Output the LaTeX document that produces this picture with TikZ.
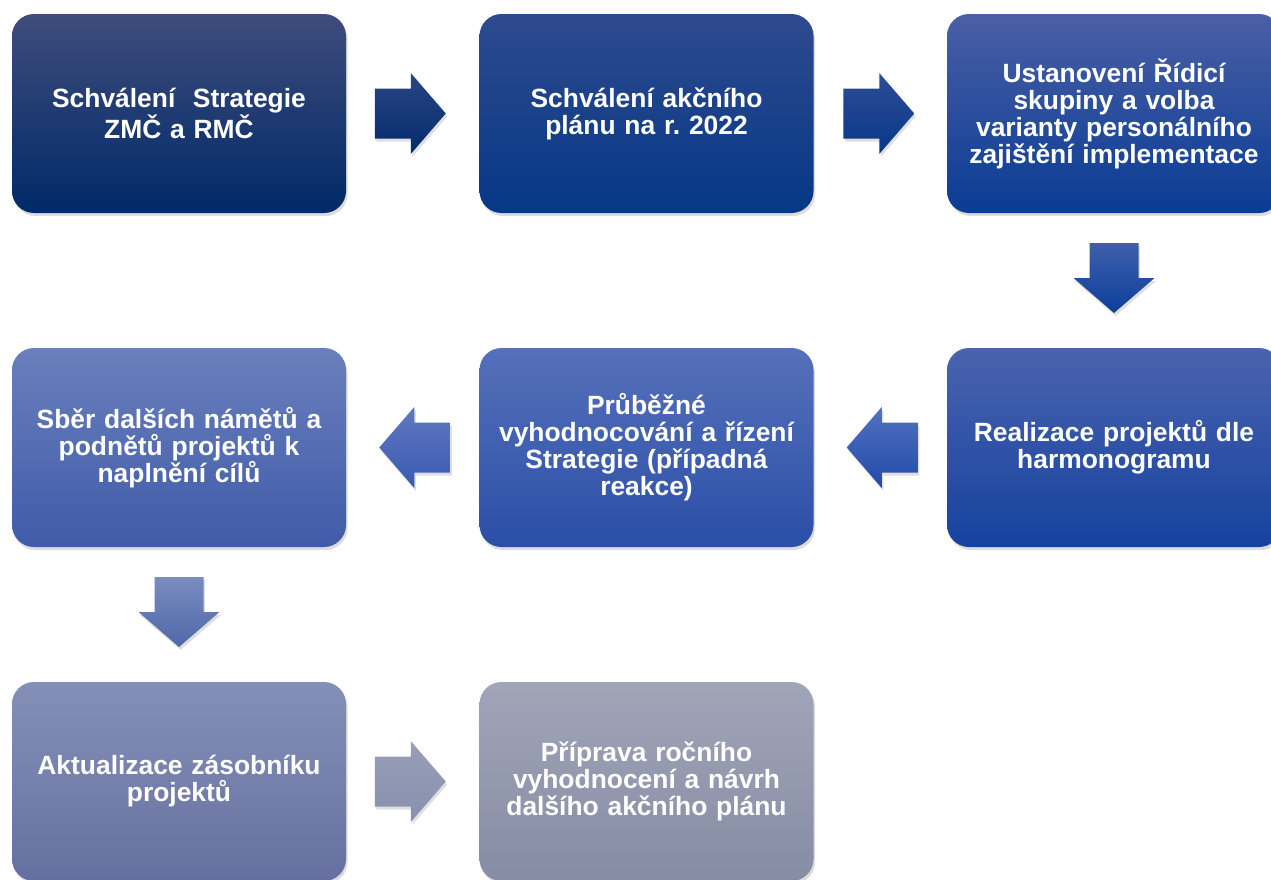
\documentclass[tikz,border=0pt]{standalone}
\usepackage{fontspec}
\setmainfont{Liberation Sans}
\usetikzlibrary{calc,shadows}
\definecolor{cAt}{HTML}{3F4C7C}\definecolor{cAb}{HTML}{002A68}
\definecolor{cBt}{HTML}{2E4A8E}\definecolor{cBb}{HTML}{053886}
\definecolor{cCt}{HTML}{4A5FA6}\definecolor{cCb}{HTML}{093C94}
\definecolor{cDt}{HTML}{4A63AE}\definecolor{cDb}{HTML}{15429F}
\definecolor{cEt}{HTML}{5670BA}\definecolor{cEb}{HTML}{2A4FA7}
\definecolor{cFt}{HTML}{6A7FBC}\definecolor{cFb}{HTML}{3F5BA9}
\definecolor{cGt}{HTML}{8590B8}\definecolor{cGb}{HTML}{6570A0}
\definecolor{cHt}{HTML}{A0A5B8}\definecolor{cHb}{HTML}{868CA4}
\definecolor{aAt}{HTML}{2A4585}\definecolor{aAb}{HTML}{032B6C}
\definecolor{aBt}{HTML}{2E4C94}\definecolor{aBb}{HTML}{06388A}
\definecolor{aCt}{HTML}{3E5FAA}\definecolor{aCb}{HTML}{0C3F9C}
\definecolor{aDt}{HTML}{5272C0}\definecolor{aDb}{HTML}{2049A8}
\definecolor{aEt}{HTML}{6078C2}\definecolor{aEb}{HTML}{3A5AB0}
\definecolor{aFt}{HTML}{7A8CC0}\definecolor{aFb}{HTML}{5068A8}
\definecolor{aGt}{HTML}{989EB8}\definecolor{aGb}{HTML}{8890AE}
\frenchspacing
\begin{document}
\begin{tikzpicture}[x=1pt,y=-1pt,
  box/.style={rounded corners=22pt, minimum width=334pt, minimum height=199pt,
    inner sep=0pt, text width=330pt, align=center, text=white,
    font=\fontsize{26.4}{27}\selectfont\bfseries,
    drop shadow={opacity=0.28,shadow xshift=1.5pt,shadow yshift=-3pt}},
  blk/.style={drop shadow={opacity=0.25,shadow xshift=1.5pt,shadow yshift=-3pt}}
]
\useasboundingbox (0,0) rectangle (1271,879);

\node[box, top color=cAt, bottom color=cAb] (b1) at (179,113.5) {Schválení\ \ Strategie\\ZMČ a RMČ};
\node[box, top color=cBt, bottom color=cBb] (b2) at (646.5,113.5) {Schválení akčního\\plánu na r. 2022};
\node[box, top color=cCt, bottom color=cCb] (b3) at (1114,113.5) {Ustanovení Řídicí\\skupiny a volba\\varianty personálního\\zajištění implementace};
\node[box, top color=cDt, bottom color=cDb] (b4) at (1114,447.5) {Realizace projektů dle\\harmonogramu};
\node[box, top color=cEt, bottom color=cEb] (b5) at (646.5,447.5) {Průběžné\\vyhodnocování a řízení\\Strategie (případná\\reakce)};
\node[box, top color=cFt, bottom color=cFb] (b6) at (179,447.5) {Sběr dalších námětů a\\podnětů projektů k\\naplnění cílů};
\node[box, top color=cGt, bottom color=cGb] (b7) at (179,781.5) {Aktualizace zásobníku\\projektů};
\node[box, top color=cHt, bottom color=cHb] (b8) at (646.5,781.5) {Příprava ročního\\vyhodnocení a návrh\\dalšího akčního plánu};

\coordinate (m12) at ($(b1.east)!0.5!(b2.west)+(-2.5,0)$);
\coordinate (m23) at ($(b2.east)!0.5!(b3.west)+(-1.5,0)$);
\coordinate (m34) at ($(b3.south)!0.5!(b4.north)+(0,-2.5)$);
\coordinate (m45) at ($(b4.west)!0.5!(b5.east)+(2,0)$);
\coordinate (m56) at ($(b5.west)!0.5!(b6.east)+(2,0)$);
\coordinate (m67) at ($(b6.south)!0.5!(b7.north)+(0,-2.5)$);
\coordinate (m78) at ($(b7.east)!0.5!(b8.west)+(-2.5,0)$);

% right arrows
\path[blk, top color=aAt, bottom color=aAb, shift={(m12)}]
  (-35.5,-25) -- (0.5,-25) -- (0.5,-40.5) -- (35.5,0) -- (0.5,40.5) -- (0.5,25) -- (-35.5,25) -- cycle;
\path[blk, top color=aBt, bottom color=aBb, shift={(m23)}]
  (-35.5,-25) -- (0.5,-25) -- (0.5,-40.5) -- (35.5,0) -- (0.5,40.5) -- (0.5,25) -- (-35.5,25) -- cycle;
\path[blk, top color=aGt, bottom color=aGb, shift={(m78)}]
  (-35.5,-25) -- (0.5,-25) -- (0.5,-40.5) -- (35.5,0) -- (0.5,40.5) -- (0.5,25) -- (-35.5,25) -- cycle;
% left arrows
\path[blk, top color=aDt, bottom color=aDb, shift={(m45)}]
  (35.5,-25) -- (-0.5,-25) -- (-0.5,-40.5) -- (-35.5,0) -- (-0.5,40.5) -- (-0.5,25) -- (35.5,25) -- cycle;
\path[blk, top color=aEt, bottom color=aEb, shift={(m56)}]
  (35.5,-25) -- (-0.5,-25) -- (-0.5,-40.5) -- (-35.5,0) -- (-0.5,40.5) -- (-0.5,25) -- (35.5,25) -- cycle;
% down arrows
\path[blk, top color=aCt, bottom color=aCb, shift={(m34)}]
  (-24.5,-35) -- (24.5,-35) -- (24.5,0) -- (40.5,0) -- (0,35) -- (-40.5,0) -- (-24.5,0) -- cycle;
\path[blk, top color=aFt, bottom color=aFb, shift={(m67)}]
  (-24.5,-35) -- (24.5,-35) -- (24.5,0) -- (40.5,0) -- (0,35) -- (-40.5,0) -- (-24.5,0) -- cycle;
\end{tikzpicture}
\end{document}
